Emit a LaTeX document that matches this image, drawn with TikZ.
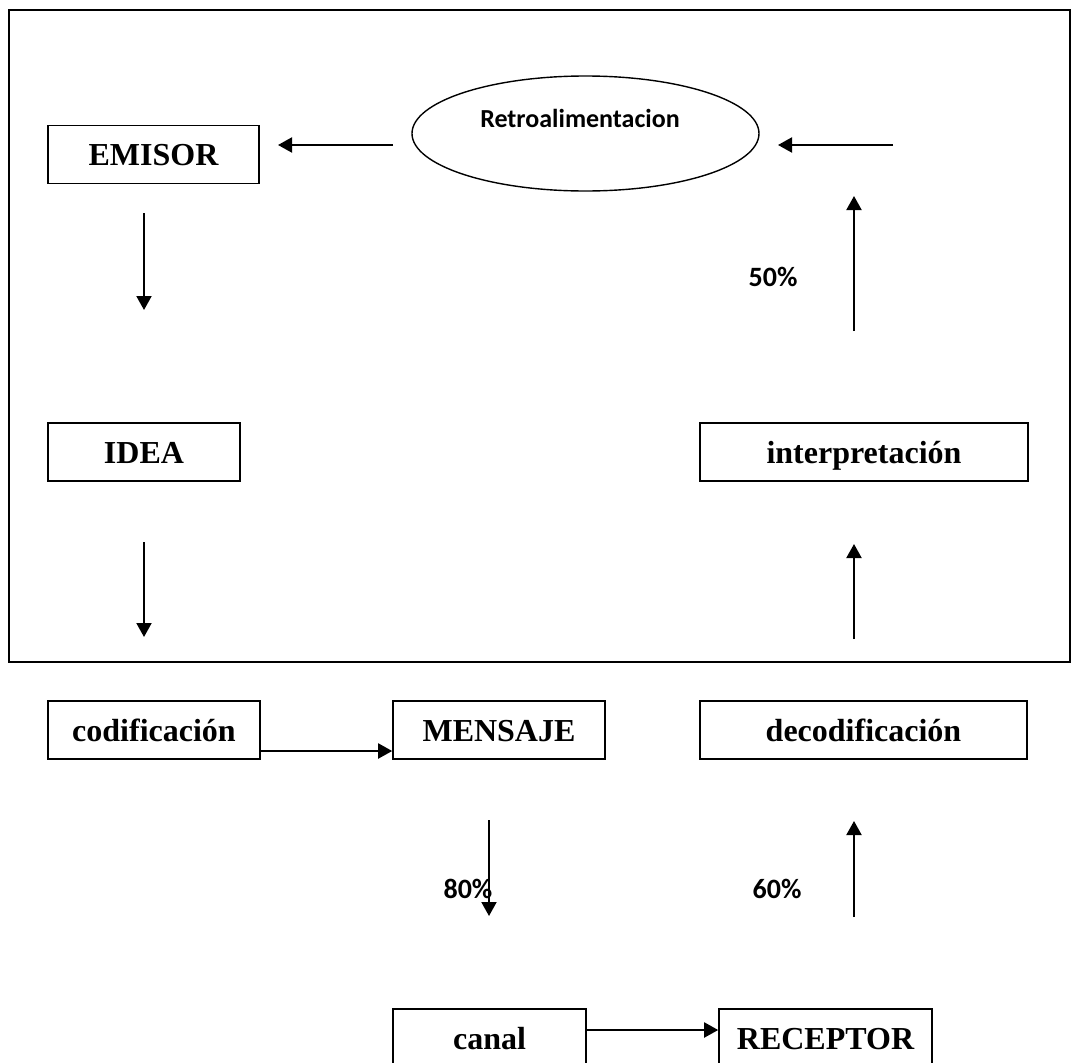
\documentclass[tikz,border=0pt]{standalone}
\usepackage{fontspec}
\setmainfont{Liberation Serif}
\newfontfamily\calib{Carlito}
\usetikzlibrary{shapes.geometric,arrows.meta}
\begin{document}
\begin{tikzpicture}[x=1pt,y=-1pt,
  boxnode/.style={draw,line width=1.6pt,inner sep=0pt,minimum height=58pt,
    text height=29pt,text depth=7pt,
    font=\fontsize{32}{38}\selectfont\bfseries},
  arr/.style={line width=2pt,-{Triangle[length=14pt,width=15pt]}},
  pct/.style={font=\calib\fontsize{28}{32}\selectfont\bfseries}]
\useasboundingbox (0,0) rectangle (1072,1063);
\clip (0,0) rectangle (1072,1063);
\fill[white] (0,0) rectangle (1072,1063);
% outer frame
\draw[line width=1.6pt] (9,10) rectangle (1070,662);
% boxes
\node[boxnode,minimum width=211pt] (emisor) at (153.5,154.5) {EMISOR};
\node[boxnode,minimum width=192pt] (idea) at (144,452) {IDEA};
\node[boxnode,minimum width=328pt] (interp) at (864,452) {interpretación};
\node[boxnode,minimum width=212pt] (codif) at (154,730) {codificación};
\node[boxnode,minimum width=212pt] (mensaje) at (499,730) {MENSAJE};
\node[boxnode,minimum width=327pt] (decodif) at (863.5,730) {decodificación};
\node[boxnode,minimum width=193pt] (canal) at (489.5,1038) {canal};
\node[boxnode,minimum width=213pt] (receptor) at (825.5,1038) {RECEPTOR};
% ellipse
\node[ellipse,draw,line width=1.4pt,minimum width=347pt,minimum height=115pt,inner sep=0pt] (retro) at (585.5,133.5) {};
\node[font=\calib\fontsize{26}{30}\selectfont\bfseries,inner sep=0pt] (retrolbl) at (580,118) {Retroalimentacion};
% percentages
\node[pct,inner sep=0pt] (p50) at (773,277) {50\%};
\node[pct,inner sep=0pt] (p80) at (468,889) {80\%};
\node[pct,inner sep=0pt] (p60) at (777,889) {60\%};
% arrow coordinates
\coordinate (a1s) at (393,145); \coordinate (a1e) at (278,145);
\coordinate (a2s) at (893,145); \coordinate (a2e) at (778,145);
\coordinate (a3s) at (144,213); \coordinate (a3e) at (144,310);
\coordinate (a4s) at (854,331); \coordinate (a4e) at (854,196);
\coordinate (a5s) at (144,542); \coordinate (a5e) at (144,637);
\coordinate (a6s) at (854,639); \coordinate (a6e) at (854,544);
\coordinate (a7s) at (489,820); \coordinate (a7e) at (489,916);
\coordinate (a8s) at (854,917); \coordinate (a8e) at (854,821);
% arrows
\draw[arr] (a1s) -- (a1e);
\draw[arr] (a2s) -- (a2e);
\draw[arr] (a3s) -- (a3e);
\draw[arr] (a4s) -- (a4e);
\draw[arr] (a5s) -- (a5e);
\draw[arr] (a6s) -- (a6e);
\draw[arr] (a7s) -- (a7e);
\draw[arr] (a8s) -- (a8e);
\draw[arr] ([yshift=-21pt]codif.east) -- ([yshift=-21pt]mensaje.west);
\draw[arr] ([yshift=8pt]canal.east) -- ([yshift=8pt]receptor.west);
\end{tikzpicture}
\end{document}
